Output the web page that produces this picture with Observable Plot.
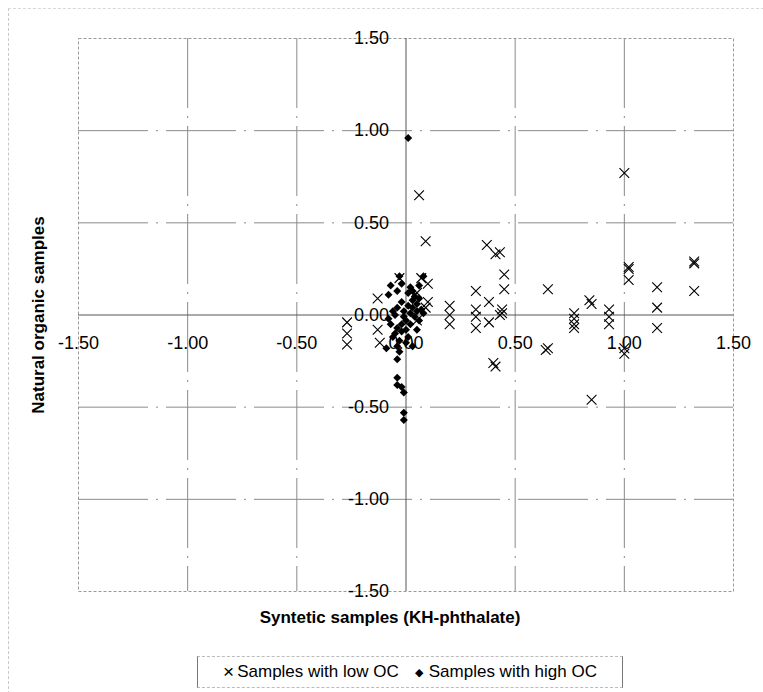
<!DOCTYPE html>
<html>
<head>
<meta charset="utf-8">
<script src="https://cdn.jsdelivr.net/npm/d3@7"></script>
<script src="https://cdn.jsdelivr.net/npm/@observablehq/plot@0.6"></script>
<style>
  body { margin: 0; background: #fff; font-family: "Liberation Sans", Arial, sans-serif; }
  #wrap { position: relative; width: 763px; height: 692px; overflow: hidden; }
  #outer { position: absolute; left: 8px; top: 8px; width: 760px; height: 700px;
           border-left: 1px dashed #c8c8c8; border-top: 1px dashed #d8d8d8; pointer-events: none; }
  #legend { margin-left: 197px; margin-top: 11px; width: 424px; height: 30px;
            border-left: 1px solid #777; border-right: 1px solid #777;
            border-top: 1px dashed #bbb; border-bottom: 1px dashed #bbb;
            display: flex; align-items: center; justify-content: center;
            font-size: 17px; color: #000; white-space: nowrap; }
  #legend .sym { font-size: 19px; margin-right: 3px; }
  #legend .dia { font-size: 11px; margin-right: 6px; margin-left: 16px; }
</style>
</head>
<body>
<div id="wrap">
  <div id="outer"></div>
  <div id="chart"></div>
  <div id="legend"><span class="sym">×</span>Samples with low OC<span class="dia">◆</span>Samples with high OC</div>
</div>
<script>
// Axis ticks
const ticks = [-1.5, -1.0, -0.5, 0, 0.5, 1.0, 1.5];
const gridTicks = [-1.0, -0.5, 0.5, 1.0];

// Samples with low OC (x = synthetic, y = natural organic)
const lowX = [0.06, 1.00, 0.09, 0.37, 0.41, 0.43, 0.45, 0.45, 0.32, 0.38,
              0.44, 0.44, 0.43, 0.38, 0.20, 0.20, 0.20, 0.32, 0.32, 0.32,
              0.40, 0.41, 0.65, 0.65, 0.64, 0.77, 0.77, 0.77, 0.77, 0.84,
              0.85, 0.93, 0.93, 0.93, 1.02, 1.02, 1.02, 1.00, 1.00, 1.15,
              1.15, 1.15, 1.32, 1.32, 1.32, 0.85, -0.27, -0.27, -0.27, -0.13,
              -0.13, -0.12, -0.03, 0.07, 0.10, 0.10, 0.05, 0.05, 0.09];
const lowY = [0.65, 0.77, 0.40, 0.38, 0.33, 0.34, 0.22, 0.14, 0.13, 0.07,
              0.03, 0.01, 0.00, -0.04, 0.05, 0.00, -0.05, 0.03, -0.01, -0.07,
              -0.26, -0.28, 0.14, -0.18, -0.19, 0.01, -0.02, -0.05, -0.07, 0.08,
              0.06, 0.03, -0.01, -0.05, 0.26, 0.25, 0.19, -0.18, -0.21, 0.15,
              0.04, -0.07, 0.29, 0.28, 0.13, -0.46, -0.04, -0.10, -0.16, 0.09,
              -0.08, -0.15, 0.20, 0.20, 0.17, 0.07, -0.03, 0.12, 0.04];

// Samples with high OC
const highX = [0.01, -0.04, -0.04, -0.04, -0.02, -0.01, -0.01, -0.01, -0.09,
               -0.03, -0.07, -0.04, -0.08, 0.08, 0.06, 0.02, 0.01, -0.02, -0.04,
               0.03, 0.03, 0.05, 0.02, 0.04, 0.06, 0.00, -0.07, -0.04, -0.02,
               0.00, -0.06, -0.03, 0.01, 0.05, 0.03, -0.04,
               0.05, 0.07, -0.05, -0.06, -0.01, 0.01, 0.04, -0.02, -0.05, 0.02,
               -0.02, 0.06, 0.08, -0.08, -0.01, 0.03, -0.03, 0.00];
const highY = [0.96, -0.24, -0.34, -0.38, -0.39, -0.42, -0.53, -0.57, -0.18,
               0.21, 0.16, 0.13, 0.11, 0.21, 0.16, 0.15, 0.12, 0.07, 0.04,
               0.08, 0.04, 0.06, 0.01, -0.01, -0.03, -0.03, -0.05, -0.07, -0.09,
               -0.08, -0.12, -0.14, -0.12, -0.08, -0.17, -0.17,
               0.02, 0.03, 0.00, 0.02, -0.01, 0.05, 0.10, 0.17, -0.10, -0.05,
               -0.05, 0.09, 0.01, -0.02, 0.02, 0.13, -0.20, -0.15];

const low = lowX.map((x, i) => ({x, y: lowY[i]}));
const high = highX.map((x, i) => ({x, y: highY[i]}));
const fmt = d3.format(".2f");
const fmtLab = d => fmt(d).replace("−", "-");

const chart = Plot.plot({
  width: 763,
  height: 645,
  marginLeft: 78,
  marginRight: 30,
  marginTop: 38,
  marginBottom: 54,
  x: {domain: [-1.5, 1.5], axis: null},
  y: {domain: [-1.5, 1.5], axis: null},
  style: {fontFamily: "'Liberation Sans', Arial, sans-serif", background: "white", overflow: "visible"},
  marks: [
    Plot.ruleX(gridTicks, {stroke: "#8a8a8a", strokeWidth: 1, strokeDasharray: "70,8,2,8"}),
    Plot.ruleY(gridTicks, {stroke: "#8a8a8a", strokeWidth: 1, strokeDasharray: "70,8,2,8"}),
    Plot.frame({stroke: "#9a9a9a", strokeDasharray: "3,2"}),
    Plot.ruleX([0], {stroke: "#555", strokeWidth: 1}),
    Plot.ruleY([0], {stroke: "#555", strokeWidth: 1}),
    Plot.text(ticks, {x: d => d, y: 0, dy: 28, text: fmtLab, fontSize: 18, fill: "black"}),
    Plot.text(ticks, {x: 0, y: d => d, dx: -17, text: fmtLab, textAnchor: "end", fontSize: 18, fill: "black"}),
    Plot.text(["Natural organic samples"], {frameAnchor: "left", textAnchor: "middle", dx: -40, rotate: -90, fontSize: 17, fontWeight: "bold", fill: "black"}),
    Plot.text(["Syntetic samples (KH-phthalate)"], {frameAnchor: "bottom", dy: 31, dx: -16, fontSize: 17, fontWeight: "bold", fill: "black"}),
    Plot.dot(low, {x: "x", y: "y", symbol: "times", r: 4.5, stroke: "black", strokeWidth: 1.1}),
    Plot.dot(high, {x: "x", y: "y", symbol: "diamond2", r: 3.6, fill: "black", stroke: "none"})
  ]
});
document.getElementById("chart").appendChild(chart);
</script>
</body>
</html>
